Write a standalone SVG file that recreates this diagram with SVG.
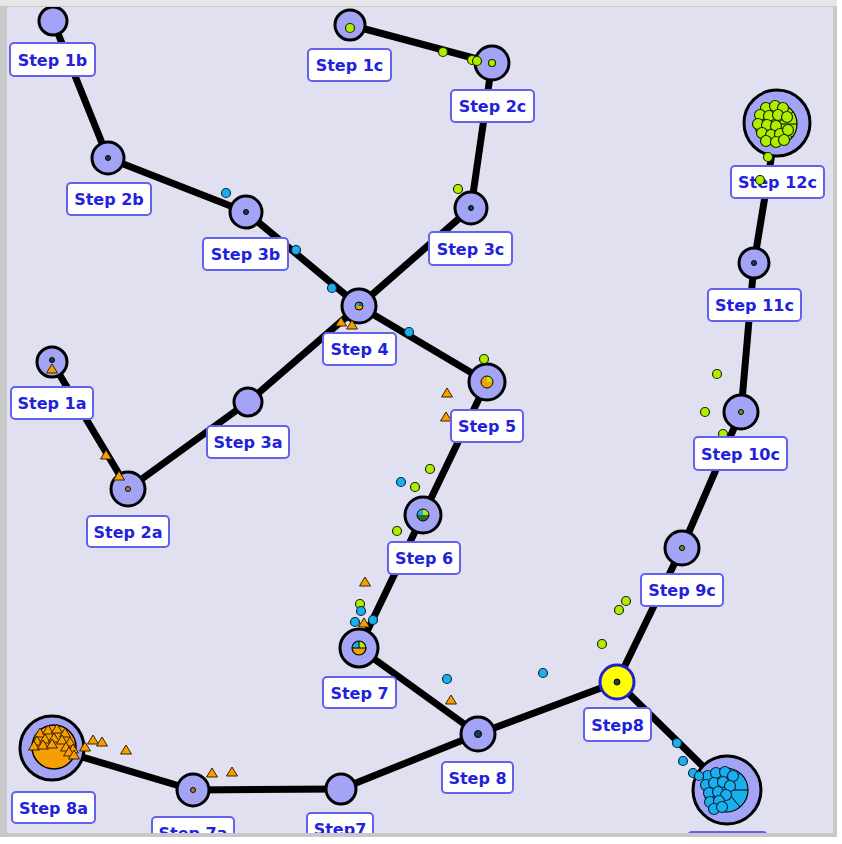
<svg xmlns="http://www.w3.org/2000/svg" width="842" height="844" viewBox="0 0 842 844">
<defs>
<style>
.edge{stroke:#000;stroke-width:7;stroke-linecap:round;fill:none}
.node{fill:#a4a4f6;stroke:#000;stroke-width:3}
.lbl rect{fill:#fff;stroke:#6262ee;stroke-width:2}
.lbl text{font-family:"DejaVu Sans",Verdana,sans-serif;font-weight:bold;font-size:16px;fill:#2222dd;text-anchor:middle}
.g{fill:#b0ee00;stroke:#1a2a00;stroke-width:1.2}
.b{fill:#1ab0f0;stroke:#0a2a40;stroke-width:1.2}
.c{fill:#1e3a5a;stroke:#000;stroke-width:1}
.cg{fill:#6a9a00;stroke:#000;stroke-width:1}
.co{fill:#b08020;stroke:#000;stroke-width:1}
.t{fill:#f5a000;stroke:#3a2000;stroke-width:1}
</style>
<clipPath id="area"><rect x="7" y="7" width="826" height="826"/></clipPath>
<path id="tri" d="M0,-5 L5.5,4 L-5.5,4 Z"/>
</defs>
<rect x="0" y="0" width="842" height="844" fill="#ffffff"/>
<rect x="0" y="0" width="837" height="837" fill="#c8c8c8"/>
<rect x="0" y="0" width="837" height="6" fill="#e6e6e6"/>
<rect x="7" y="7" width="826" height="826" fill="#e0e0f0"/>
<g clip-path="url(#area)">
<g id="connectors">
<line class="edge" x1="53" y1="21" x2="108" y2="158"/>
<line class="edge" x1="108" y1="158" x2="246" y2="212"/>
<line class="edge" x1="246" y1="212" x2="359" y2="306"/>
<line class="edge" x1="350" y1="25" x2="492" y2="63"/>
<line class="edge" x1="492" y1="63" x2="471" y2="208"/>
<line class="edge" x1="471" y1="208" x2="359" y2="306"/>
<line class="edge" x1="52" y1="362" x2="128" y2="489"/>
<line class="edge" x1="128" y1="489" x2="248" y2="402"/>
<line class="edge" x1="248" y1="402" x2="359" y2="306"/>
<line class="edge" x1="359" y1="306" x2="487" y2="382"/>
<line class="edge" x1="487" y1="382" x2="423" y2="515"/>
<line class="edge" x1="423" y1="515" x2="359" y2="648"/>
<line class="edge" x1="359" y1="648" x2="478" y2="734"/>
<line class="edge" x1="52" y1="748" x2="193" y2="790"/>
<line class="edge" x1="193" y1="790" x2="341" y2="789"/>
<line class="edge" x1="341" y1="789" x2="478" y2="734"/>
<line class="edge" x1="478" y1="734" x2="617" y2="682"/>
<line class="edge" x1="617" y1="682" x2="682" y2="548"/>
<line class="edge" x1="682" y1="548" x2="741" y2="412"/>
<line class="edge" x1="741" y1="412" x2="754" y2="263"/>
<line class="edge" x1="754" y1="263" x2="777" y2="123"/>
<line class="edge" x1="617" y1="682" x2="727" y2="790"/>
</g>

<g id="n1b"><circle class="node" cx="53" cy="21" r="14"/></g>
<g id="n2b"><circle class="node" cx="108" cy="158" r="16"/><circle class="c" cx="108" cy="158" r="2.5"/></g>
<g id="n3b"><circle class="node" cx="246" cy="212" r="16"/><circle class="c" cx="246" cy="212" r="2.5" fill="#1a5a6a"/></g>
<g id="n1c"><circle class="node" cx="350" cy="25" r="15"/><circle class="g" cx="350" cy="28" r="4.5"/></g>
<g id="n2c"><circle class="node" cx="492" cy="63" r="17"/><circle class="g" cx="492" cy="63" r="3.5"/></g>
<g id="n3c"><circle class="node" cx="471" cy="208" r="16"/><circle class="c" cx="471" cy="208" r="2.5"/></g>
<g id="n4"><circle class="node" cx="359" cy="306" r="17"/>
<path d="M359,306 L359,302 A4,4 0 0 0 355,306 Z" fill="#1ab0f0"/><path d="M359,306 L355,306 A4,4 0 0 0 363,306 Z" fill="#f5a000"/><path d="M359,306 L363,306 A4,4 0 0 0 359,302 Z" fill="#2a6a3a"/><circle cx="359" cy="306" r="4" fill="none" stroke="#000" stroke-width="1"/></g>
<g id="n1a"><circle class="node" cx="52" cy="362" r="15"/><circle class="c" cx="52" cy="360" r="2.5"/></g>
<g id="n2a"><circle class="node" cx="128" cy="489" r="17"/><circle class="co" cx="128" cy="489" r="2.5"/></g>
<g id="n3a"><circle class="node" cx="248" cy="402" r="14"/></g>
<g id="n5"><circle class="node" cx="487" cy="382" r="18"/>
<path d="M487,382 L481,382 A6,6 0 0 0 493,382 Z" fill="#f5a000"/><path d="M487,382 L493,382 A6,6 0 0 0 487,376 Z" fill="#b0ee00"/><path d="M487,382 L487,376 A6,6 0 0 0 481,382 Z" fill="#f5a000"/><circle cx="487" cy="382" r="6" fill="none" stroke="#000" stroke-width="1"/></g>
<g id="n6"><circle class="node" cx="423" cy="515" r="18"/>
<path d="M423,515 L417,515 A6,6 0 0 1 423,509 Z" fill="#1ab0f0"/><path d="M423,515 L423,509 A6,6 0 0 1 429,515 Z" fill="#b0ee00"/><path d="M423,515 L429,515 A6,6 0 0 1 417,515 Z" fill="#2a6a3a"/><circle cx="423" cy="515" r="6" fill="none" stroke="#000" stroke-width="1"/></g>
<g id="n7"><circle class="node" cx="359" cy="648" r="19"/>
<path d="M359,648 L352,648 A7,7 0 0 1 359,641 Z" fill="#1ab0f0"/><path d="M359,648 L359,641 A7,7 0 0 1 366,648 Z" fill="#b0ee00"/><path d="M359,648 L366,648 A7,7 0 0 1 352,648 Z" fill="#f5a000"/><path d="M352,648 H366 M359,641 V648" stroke="#000" stroke-width="1"/><circle cx="359" cy="648" r="7" fill="none" stroke="#000" stroke-width="1.2"/></g>
<g id="n8"><circle class="node" cx="478" cy="734" r="17"/><circle class="c" cx="478" cy="734" r="3.5" fill="#2a5a3a"/></g>
<g id="n7b"><circle class="node" cx="341" cy="789" r="15"/></g>
<g id="n7a"><circle class="node" cx="193" cy="790" r="16"/><circle class="co" cx="193" cy="790" r="2.5"/></g>
<g id="n8a"><circle class="node" cx="52" cy="748" r="32"/>
<circle cx="54" cy="747" r="22" fill="#f5a000" stroke="#000" stroke-width="1.5"/>
<use href="#tri" class="t" x="40" y="733"/><use href="#tri" class="t" x="48" y="730"/><use href="#tri" class="t" x="57" y="729"/><use href="#tri" class="t" x="65" y="733"/><use href="#tri" class="t" x="37" y="741"/><use href="#tri" class="t" x="45" y="739"/><use href="#tri" class="t" x="54" y="738"/><use href="#tri" class="t" x="62" y="740"/><use href="#tri" class="t" x="70" y="742"/><use href="#tri" class="t" x="34" y="746"/><use href="#tri" class="t" x="43" y="745"/><use href="#tri" class="t" x="52" y="744"/><use href="#tri" class="t" x="66" y="747"/><use href="#tri" class="t" x="73" y="749"/><use href="#tri" class="t" x="69" y="752"/><use href="#tri" class="t" x="74" y="755"/>
</g>
<g id="nY8"><circle cx="617" cy="682" r="17" fill="#ffff00" stroke="#2222cc" stroke-width="3"/><circle class="c" cx="617" cy="682" r="3" fill="#1e4a5a"/></g>
<g id="n9c"><circle class="node" cx="682" cy="548" r="17"/><circle class="cg" cx="682" cy="548" r="2.5"/></g>
<g id="n10c"><circle class="node" cx="741" cy="412" r="17"/><circle class="cg" cx="741" cy="412" r="2.5"/></g>
<g id="n11c"><circle class="node" cx="754" cy="263" r="15"/><circle class="c" cx="754" cy="263" r="2.5"/></g>
<g id="n12c"><circle class="node" cx="777" cy="123" r="33"/>
<circle cx="776" cy="124" r="21" fill="#aaee00" stroke="#000" stroke-width="1.2"/>
<path d="M776,124 L797,124 M776,124 L793,112 M776,124 L792,137 M776,124 L785,104" stroke="#000" stroke-width="1" fill="none"/>
<circle class="g" cx="766" cy="108" r="5.5"/><circle class="g" cx="775" cy="106" r="5.5"/><circle class="g" cx="783" cy="108" r="5.5"/><circle class="g" cx="760" cy="115" r="5.5"/><circle class="g" cx="769" cy="116" r="5.5"/><circle class="g" cx="778" cy="115" r="5.5"/><circle class="g" cx="787" cy="117" r="5.5"/><circle class="g" cx="758" cy="124" r="5.5"/><circle class="g" cx="767" cy="125" r="5.5"/><circle class="g" cx="776" cy="126" r="5.5"/><circle class="g" cx="762" cy="133" r="5.5"/><circle class="g" cx="771" cy="135" r="5.5"/><circle class="g" cx="780" cy="134" r="5.5"/><circle class="g" cx="788" cy="130" r="5.5"/><circle class="g" cx="766" cy="141" r="5.5"/><circle class="g" cx="776" cy="142" r="5.5"/><circle class="g" cx="784" cy="140" r="5.5"/>
</g>
<g id="nBR"><circle class="node" cx="727" cy="790" r="34"/>
<circle cx="726" cy="790" r="22" fill="#1ab0f0" stroke="#000" stroke-width="1.2"/>
<path d="M726,790 L748,790 M726,790 L740,773 M726,790 L740,807" stroke="#000" stroke-width="1" fill="none"/>
<circle class="b" cx="708" cy="776" r="5.5"/><circle class="b" cx="716" cy="773" r="5.5"/><circle class="b" cx="725" cy="772" r="5.5"/><circle class="b" cx="733" cy="776" r="5.5"/><circle class="b" cx="706" cy="785" r="5.5"/><circle class="b" cx="714" cy="783" r="5.5"/><circle class="b" cx="723" cy="782" r="5.5"/><circle class="b" cx="730" cy="786" r="5.5"/><circle class="b" cx="709" cy="793" r="5.5"/><circle class="b" cx="718" cy="792" r="5.5"/><circle class="b" cx="726" cy="795" r="5.5"/><circle class="b" cx="710" cy="802" r="5.5"/><circle class="b" cx="719" cy="801" r="5.5"/><circle class="b" cx="714" cy="809" r="5.5"/><circle class="b" cx="722" cy="807" r="5.5"/>
</g>

<g id="particles">
<circle class="b" cx="63" cy="50" r="4.5"/>
<circle class="b" cx="226" cy="193" r="4.5"/>
<circle class="b" cx="296" cy="250" r="4.5"/>
<circle class="b" cx="332" cy="288" r="4.5"/>
<circle class="b" cx="409" cy="332" r="4.5"/>
<circle class="g" cx="443" cy="52" r="4.5"/>
<circle class="g" cx="472" cy="60" r="4.5"/>
<circle class="g" cx="477" cy="61" r="4.5"/>
<circle class="g" cx="458" cy="189" r="4.5"/>
<circle class="g" cx="484" cy="359" r="4.5"/>
<circle class="g" cx="430" cy="469" r="4.5"/>
<circle class="b" cx="401" cy="482" r="4.5"/>
<circle class="g" cx="415" cy="487" r="4.5"/>
<circle class="g" cx="397" cy="531" r="4.5"/>
<circle class="g" cx="360" cy="604" r="4.5"/>
<circle class="b" cx="361" cy="611" r="4.5"/>
<circle class="b" cx="355" cy="622" r="4.5"/>
<circle class="b" cx="373" cy="620" r="4.5"/>
<circle class="b" cx="447" cy="679" r="4.5"/>
<circle class="b" cx="543" cy="673" r="4.5"/>
<circle class="g" cx="602" cy="644" r="4.5"/>
<circle class="g" cx="626" cy="601" r="4.5"/>
<circle class="g" cx="619" cy="610" r="4.5"/>
<circle class="g" cx="717" cy="374" r="4.5"/>
<circle class="g" cx="705" cy="412" r="4.5"/>
<circle class="g" cx="723" cy="434" r="4.5"/>
<circle class="g" cx="768" cy="157" r="4.5"/>
<circle class="b" cx="677" cy="743" r="4.5"/>
<circle class="b" cx="683" cy="761" r="4.5"/>
<circle class="b" cx="693" cy="773" r="4.5"/>
<circle class="b" cx="699" cy="776" r="4.5"/>
<use href="#tri" class="t" x="52" y="369"/>
<use href="#tri" class="t" x="106" y="455"/>
<use href="#tri" class="t" x="119" y="476"/>
<use href="#tri" class="t" x="341" y="322"/>
<use href="#tri" class="t" x="352" y="325"/>
<use href="#tri" class="t" x="447" y="393"/>
<use href="#tri" class="t" x="446" y="417"/>
<use href="#tri" class="t" x="365" y="582"/>
<use href="#tri" class="t" x="364" y="623"/>
<use href="#tri" class="t" x="451" y="700"/>
<use href="#tri" class="t" x="212" y="773"/>
<use href="#tri" class="t" x="232" y="772"/>
<use href="#tri" class="t" x="93" y="740"/>
<use href="#tri" class="t" x="102" y="742"/>
<use href="#tri" class="t" x="126" y="750"/>
<use href="#tri" class="t" x="85" y="747"/>
</g>

<g id="labels">
<g class="lbl" id="l1b"><rect x="10" y="43" width="85" height="33" rx="4"/><text x="52.5" y="65.5">Step 1b</text></g>
<g class="lbl" id="l2b"><rect x="67" y="183" width="84" height="32" rx="4"/><text x="109" y="205">Step 2b</text></g>
<g class="lbl" id="l3b"><rect x="203" y="238" width="85" height="32" rx="4"/><text x="245.5" y="260">Step 3b</text></g>
<g class="lbl" id="l1c"><rect x="308" y="49" width="83" height="32" rx="4"/><text x="349.5" y="71">Step 1c</text></g>
<g class="lbl" id="l2c"><rect x="451" y="90" width="83" height="32" rx="4"/><text x="492.5" y="112">Step 2c</text></g>
<g class="lbl" id="l3c"><rect x="429" y="232" width="83" height="33" rx="4"/><text x="470.5" y="254.5">Step 3c</text></g>
<g class="lbl" id="l4"><rect x="323" y="333" width="73" height="32" rx="4"/><text x="359.5" y="355">Step 4</text></g>
<g class="lbl" id="l1a"><rect x="11" y="387" width="82" height="32" rx="4"/><text x="52" y="409">Step 1a</text></g>
<g class="lbl" id="l2a"><rect x="87" y="516" width="82" height="31" rx="4"/><text x="128" y="537.5">Step 2a</text></g>
<g class="lbl" id="l3a"><rect x="207" y="426" width="82" height="32" rx="4"/><text x="248" y="448">Step 3a</text></g>
<g class="lbl" id="l5"><rect x="451" y="410" width="72" height="32" rx="4"/><text x="487" y="432">Step 5</text></g>
<g class="lbl" id="l6"><rect x="388" y="542" width="72" height="32" rx="4"/><text x="424" y="564">Step 6</text></g>
<g class="lbl" id="l7"><rect x="323" y="677" width="73" height="31" rx="4"/><text x="359.5" y="698.5">Step 7</text></g>
<g class="lbl" id="l8"><rect x="442" y="762" width="71" height="31" rx="4"/><text x="477.5" y="783.5">Step 8</text></g>
<g class="lbl" id="l7b"><rect x="307" y="813" width="66" height="31" rx="4"/><text x="340" y="835">Step7</text></g>
<g class="lbl" id="l7a"><rect x="152" y="817" width="82" height="31" rx="4"/><text x="193" y="839">Step 7a</text></g>
<g class="lbl" id="l8a"><rect x="12" y="792" width="83" height="31" rx="4"/><text x="53.5" y="813.5">Step 8a</text></g>
<g class="lbl" id="lY8"><rect x="584" y="708" width="67" height="33" rx="4"/><text x="617.5" y="730.5">Step8</text></g>
<g class="lbl" id="l9c"><rect x="641" y="574" width="82" height="32" rx="4"/><text x="682" y="596">Step 9c</text></g>
<g class="lbl" id="l10c"><rect x="694" y="437" width="93" height="33" rx="4"/><text x="740.5" y="459.5">Step 10c</text></g>
<g class="lbl" id="l11c"><rect x="708" y="289" width="93" height="32" rx="4"/><text x="754.5" y="311">Step 11c</text></g>
<g class="lbl" id="l12c"><rect x="731" y="166" width="93" height="32" rx="4"/><text x="777.5" y="188">Step 12c</text></g>
<g class="lbl" id="lBR"><rect x="688" y="832" width="79" height="31" rx="4"/></g>
</g>
<g id="overlay">
<circle class="g" cx="760" cy="180" r="4.5"/>
</g>
</g>
</svg>
